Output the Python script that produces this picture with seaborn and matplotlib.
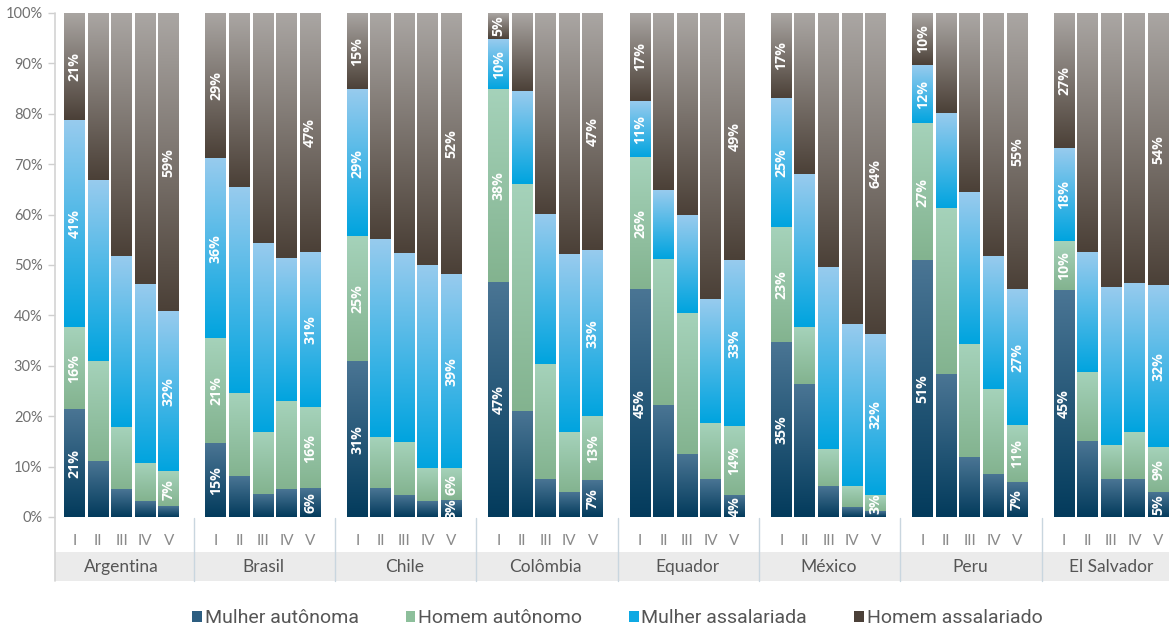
import numpy as np
import pandas as pd
import matplotlib
matplotlib.use("Agg")
import matplotlib.pyplot as plt
import seaborn as sns
from matplotlib.colors import to_rgba
from matplotlib.patches import Patch

countries = ["Argentina", "Brasil", "Chile", "Colômbia", "Equador", "México", "Peru", "El Salvador"]
quintiles = ["I", "II", "III", "IV", "V"]
series = ["Mulher autônoma", "Homem autônomo", "Mulher assalariada", "Homem assalariado"]

# Shares (%) by country (rows) and income quintile I..V (columns)
mulher_autonoma = [
    [21.3, 11.0, 5.4, 3.1, 2.1],
    [14.6, 8.0, 4.5, 5.4, 5.6],
    [30.8, 5.6, 4.2, 3.1, 3.3],
    [46.6, 20.9, 7.4, 4.8, 7.2],
    [45.1, 22.1, 12.4, 7.4, 4.3],
    [34.6, 26.3, 6.0, 1.9, 1.0],
    [50.9, 28.3, 11.8, 8.4, 6.8],
    [45.0, 15.0, 7.5, 7.5, 4.9],
]
homem_autonomo = [
    [16.4, 20.0, 12.4, 7.5, 6.8],
    [20.8, 16.5, 12.3, 17.5, 16.1],
    [24.9, 10.2, 10.7, 6.5, 6.3],
    [38.2, 45.1, 23.0, 12.0, 12.7],
    [26.2, 29.0, 28.1, 11.2, 13.6],
    [23.0, 11.3, 7.4, 4.1, 3.3],
    [27.1, 32.9, 22.6, 16.9, 11.4],
    [9.7, 13.5, 6.7, 9.3, 8.9],
]
mulher_assalariada = [
    [41.0, 35.9, 33.9, 35.7, 31.8],
    [35.8, 41.0, 37.4, 28.4, 30.9],
    [29.0, 39.2, 37.4, 40.3, 38.6],
    [10.1, 18.4, 29.6, 35.3, 33.1],
    [11.3, 13.5, 19.3, 24.5, 33.0],
    [25.4, 30.3, 36.1, 32.3, 31.9],
    [11.7, 19.0, 30.1, 26.2, 26.9],
    [18.4, 24.0, 31.3, 29.4, 32.0],
]
homem_assalariado = [
    [21.3, 33.1, 48.3, 53.7, 59.3],
    [28.8, 34.5, 45.8, 48.7, 47.4],
    [15.3, 45.0, 47.7, 50.1, 51.8],
    [5.1, 15.6, 40.0, 47.9, 47.0],
    [17.4, 35.4, 40.2, 56.9, 49.1],
    [17.0, 32.1, 50.5, 61.7, 63.8],
    [10.3, 19.8, 35.5, 48.5, 54.9],
    [26.9, 47.5, 54.5, 53.8, 54.2],
]

# gradient ends (top, bottom) and legend swatch per series
grad_colors = {
    "Mulher autônoma": ("#4a7594", "#033b5c"),
    "Homem autônomo": ("#a5d2ba", "#83b38f"),
    "Mulher assalariada": ("#97cbee", "#00a4df"),
    "Homem assalariado": ("#aaa6a3", "#4b4037"),
}
legend_colors = {
    "Mulher autônoma": "#2c5d80",
    "Homem autônomo": "#8dbf9b",
    "Mulher assalariada": "#0ea9e3",
    "Homem assalariado": "#4b4038",
}

values = {
    "Mulher autônoma": mulher_autonoma,
    "Homem autônomo": homem_autonomo,
    "Mulher assalariada": mulher_assalariada,
    "Homem assalariado": homem_assalariado,
}

rows = []
for g, country in enumerate(countries):
    for i, q in enumerate(quintiles):
        base = 0.0
        for s in series:
            v = values[s][g][i]
            rows.append(dict(country=country, quintile=q, slot=g * 6 + i,
                             series=s, value=v, bottom=base, top=base + v))
            base += v
df = pd.DataFrame(rows)

sns.set_theme(style="white")
plt.rcParams["font.family"] = ["Lato", "DejaVu Sans"]

fig = plt.figure(figsize=(11.69, 6.31), dpi=100)
ax = fig.add_axes([55 / 1169, 1 - 517 / 631, 1 - 55 / 1169, 504 / 631])

XMIN, XMAX = -0.83, 46.45
BAR_W = 0.89

# stacked bars: draw cumulative tops from the last series down so lower ones overlay
segments = []
for s in reversed(series):
    sub = df[df.series == s].sort_values("slot")
    n_before = len(ax.patches)
    sns.barplot(data=sub, x="slot", y="top", native_scale=True, width=BAR_W,
                color=legend_colors[s], errorbar=None, ax=ax, linewidth=0)
    new = ax.patches[n_before:]
    for patch, (_, r) in zip(new, sub.iterrows()):
        patch.set_facecolor("none")
        patch.set_edgecolor("none")
        segments.append((patch.get_x(), patch.get_width(), r))

# vertical gradient fill for every segment
for x0, w, r in segments:
    top_c, bot_c = (np.array(to_rgba(c)) for c in grad_colors[r.series])
    t = np.linspace(0, 1, 128)[:, None]
    img = (top_c[None, :] * (1 - t) + bot_c[None, :] * t)[:, None, :]
    ax.imshow(img, extent=(x0, x0 + w, r.bottom, r.top), origin="upper",
              aspect="auto", interpolation="bilinear", zorder=2)

# value labels on quintiles I and V
for _, r in df[df.quintile.isin(["I", "V"])].iterrows():
    if r.value >= 2.5:
        ax.text(r.slot, (r.bottom + r.top) / 2, f"{r.value:.0f}%", rotation=90,
                ha="center", va="center", color="white", fontsize=10.2,
                fontweight="bold", family=["Open Sans", "DejaVu Sans"], zorder=5)

ax.set_xlim(XMIN, XMAX)
ax.set_ylim(0, 100)
for sp in ax.spines.values():
    sp.set_visible(False)

ax.set_yticks(np.arange(0, 101, 10))
ax.set_yticklabels([f"{v}%" for v in range(0, 101, 10)])
ax.tick_params(axis="y", length=5, width=1, color="#cfcfcf", pad=4,
               labelsize=10.5, labelcolor="#707070", left=True)

slots = df.drop_duplicates("slot").sort_values("slot")
ax.set_xticks(slots.slot.values)
ax.set_xticklabels(slots.quintile.values)
ax.tick_params(axis="x", length=0, pad=12, labelsize=11, labelcolor="#8a8a8a")
ax.set_xlabel("")
ax.set_ylabel("")

xt = ax.get_xaxis_transform()
# country band
band = plt.Rectangle((XMIN, -0.127), XMAX - XMIN, 0.058, transform=xt,
                     facecolor="#ebebeb", edgecolor="none", clip_on=False, zorder=0)
ax.add_patch(band)
for g, country in enumerate(countries):
    ax.text(g * 6 + 2, -0.099, country, transform=xt, ha="center", va="center",
            fontsize=12.5, color="#555555", zorder=3)

# axis line and group separators
ax.plot([XMIN, XMIN], [1.0, -0.127], transform=xt, color="#d3d3d3", lw=1.2,
        clip_on=False, zorder=4)
for g in range(1, len(countries)):
    xs = g * 6 - 0.95
    ax.plot([xs, xs], [-0.002, -0.127], transform=xt, color="#c9d6df", lw=1,
            clip_on=False, zorder=4)

handles = [Patch(facecolor=legend_colors[s], edgecolor="none", label=s) for s in series]
fig.legend(handles=handles, loc="center", bbox_to_anchor=(0.528, 0.02), ncol=4,
           frameon=False, handlelength=0.5, handleheight=0.5, handletextpad=0.15,
           columnspacing=2.4, prop={"family": ["Roboto", "DejaVu Sans"], "size": 14},
           labelcolor="#555555")

fig.savefig("out.png", dpi=100)
